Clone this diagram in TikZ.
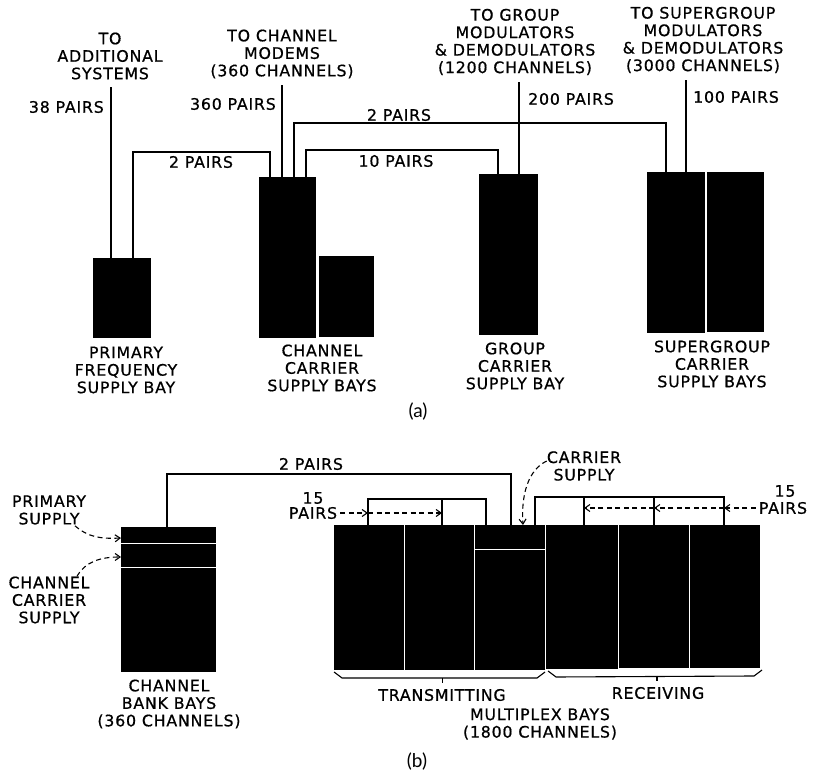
\documentclass[tikz,border=0pt]{standalone}
\usepackage{fontspec}
\setmainfont{DejaVu Sans}[LetterSpace=5,FakeBold=0.7]
\newfontfamily\capfont{Lato}
\usetikzlibrary{arrows.meta,calc}
\begin{document}
\begin{tikzpicture}[x=1pt,y=-1pt,
  bay/.style={fill=black,draw=none,inner sep=0pt,outer sep=0pt,anchor=north west},
  lbl/.style={inner sep=0pt,align=center,font=\fontsize{15.8}{17.5}\selectfont},
  wire/.style={line width=1.7pt},
  thinline/.style={white,line width=0.9pt},
  dasharrow/.style={line width=1.1pt,dash pattern=on 5pt off 3.5pt,-{Straight Barb[length=5pt,width=7pt]}},
  brace/.style={line width=1.1pt},
  capstyle/.style={inner sep=0pt,font=\capfont\fontsize{19}{21}\selectfont}
]
\useasboundingbox (0,0) rectangle (815,775);

% ---------- (a) bays
\node[bay,minimum width=58pt,minimum height=80pt] (prim) at (93,258) {};
\node[bay,minimum width=57pt,minimum height=161pt] (ch1) at (259,177) {};
\node[bay,minimum width=55pt,minimum height=81pt] (ch2) at (319,256) {};
\node[bay,minimum width=59pt,minimum height=161pt] (grp) at (479,174) {};
\node[bay,minimum width=58pt,minimum height=161pt] (sg1) at (647,172) {};
\node[bay,minimum width=57pt,minimum height=160pt] (sg2) at (707,172) {};

% top labels
\node[lbl] (tAdd) at (110,56) {TO\\ADDITIONAL\\SYSTEMS};
\node[lbl] (tChm) at (282,54) {TO CHANNEL\\MODEMS\\(360 CHANNELS)};
\node[lbl] (tGrp) at (515,42) {TO GROUP\\MODULATORS\\\& DEMODULATORS\\(1200 CHANNELS)};
\node[lbl] (tSg) at (703,40) {TO SUPERGROUP\\MODULATORS\\\& DEMODULATORS\\(3000 CHANNELS)};

\coordinate (eAdd) at (111,87);
\coordinate (eChm) at (282,85);
\coordinate (eGrp) at (519,82);
\coordinate (eSg) at (686,80);

% wires
\draw[wire] ([xshift=18pt]prim.north west) -- (eAdd);
\draw[wire] ([xshift=40pt]prim.north west) -- ++(0,-106) -| ([xshift=11pt]ch1.north west);
\draw[wire] ([xshift=23pt]ch1.north west) -- (eChm);
\draw[wire] ([xshift=35pt]ch1.north west) -- ++(0,-54) -| ([xshift=19pt]sg1.north west);
\draw[wire] ([xshift=47pt]ch1.north west) -- ++(0,-27) -| ([xshift=19pt]grp.north west);
\draw[wire] ([xshift=40pt]grp.north west) -- (eGrp);
\draw[wire] ([xshift=39pt]sg1.north west) -- (eSg);

% pair labels
\node[lbl,anchor=east] (l38) at (104,107) {38 PAIRS};
\node[lbl,anchor=east] (l360) at (276,104) {360 PAIRS};
\node[lbl] (l2a) at (201,162) {2 PAIRS};
\node[lbl] (l2b) at (399,115) {2 PAIRS};
\node[lbl] (l10) at (396,161) {10 PAIRS};
\node[lbl,anchor=west] (l200) at (528,99) {200 PAIRS};
\node[lbl,anchor=west] (l100) at (693,97) {100 PAIRS};

% bottom labels
\node[lbl] (bPrim) at (126,370) {PRIMARY\\FREQUENCY\\SUPPLY BAY};
\node[lbl] (bCh) at (322,368) {CHANNEL\\CARRIER\\SUPPLY BAYS};
\node[lbl] (bGrp) at (515,366) {GROUP\\CARRIER\\SUPPLY BAY};
\node[lbl] (bSg) at (712,364) {SUPERGROUP\\CARRIER\\SUPPLY BAYS};
\node[capstyle] (capA) at (418,412) {(a)};

% ---------- (b)
\node[bay,minimum width=95pt,minimum height=145pt] (bank) at (121,527) {};
\draw[thinline] ([yshift=-16pt]bank.north west) -- ([yshift=-16pt]bank.north east);
\draw[thinline] ([yshift=-40pt]bank.north west) -- ([yshift=-40pt]bank.north east);

\node[bay,minimum width=70pt,minimum height=145pt] (m1) at (334,525) {};
\node[bay,minimum width=69pt,minimum height=145pt] (m2) at (405,525) {};
\node[bay,minimum width=70pt,minimum height=145pt] (m3) at (475,525) {};
\node[bay,minimum width=72pt,minimum height=144pt] (m4) at (546,525) {};
\node[bay,minimum width=70pt,minimum height=143pt] (m5) at (619,525) {};
\node[bay,minimum width=70pt,minimum height=143pt] (m6) at (690,525) {};
\draw[thinline] ([yshift=-24pt]m3.north west) -- ([yshift=-24pt]m3.north east);

% 2 pairs (b)
\draw[wire] ([xshift=46pt]bank.north west) -- ++(0,-53) -| ([xshift=36pt]m3.north west);
\node[lbl] (l2c) at (311,464) {2 PAIRS};

% left bracket
\coordinate (lb1) at ([xshift=34pt]m1.north west);
\coordinate (lb2) at ([xshift=37pt]m2.north west);
\draw[wire] (lb1) -- ++(0,-26) -| ([xshift=11pt]m3.north west);
\draw[wire] (lb2) -- ++(0,-26);
\node[lbl] (l15a) at (313,498) {15};
\node[lbl] (lpA) at (313,513) {PAIRS};
\draw[dasharrow,shorten <=3pt] (lpA.east) -- (lpA.east -| lb1);
\draw[dasharrow] (lpA.east -| lb1) -- (lpA.east -| lb2);

% right bracket
\coordinate (rb1) at ([xshift=38pt]m4.north west);
\coordinate (rb2) at ([xshift=35pt]m5.north west);
\coordinate (rb3) at ([xshift=34pt]m6.north west);
\draw[wire] ([xshift=60pt]m3.north west) -- ++(0,-28) -| (rb3);
\draw[wire] (rb1) -- ++(0,-28);
\draw[wire] (rb2) -- ++(0,-28);
\node[lbl] (r15) at (785,491) {15};
\node[lbl] (rpB) at (783,508) {PAIRS};
\draw[dasharrow,shorten <=3pt] (rpB.west) -- (rpB.west -| rb3);
\draw[dasharrow] (rpB.west -| rb3) -- (rpB.west -| rb2);
\draw[dasharrow] (rpB.west -| rb2) -- (rpB.west -| rb1);

% carrier supply
\node[lbl] (cs) at (584,466) {CARRIER\\SUPPLY};
\draw[dasharrow] ([yshift=5pt]cs.west) .. controls (528,470) and (521,495) .. ([xshift=48pt]m3.north west);

% bank labels
\node[lbl] (ps) at (49,510) {PRIMARY\\SUPPLY};
\node[lbl] (ccs) at (49,600) {CHANNEL\\CARRIER\\SUPPLY};
\draw[dasharrow] ([xshift=26pt,yshift=-1pt]ps.south) .. controls (88,537) and (100,539) .. ([yshift=-11pt]bank.north west);
\draw[dasharrow] ([xshift=28pt]ccs.north) .. controls (85,562) and (100,557) .. ([yshift=-30pt]bank.north west);
\node[lbl] (bBank) at (169,704) {CHANNEL\\BANK BAYS\\(360 CHANNELS)};

% braces
\draw[brace] ($(m1.south west)+(0,2)$) -- ($(m1.south west)+(8,8)$) -- ($(m3.south east)+(-8,8)$) -- ($(m3.south east)+(0,2)$);
\draw[brace] ($(m2.south)+(3,8)$) -- ++(0,5);
\draw[brace] ($(m4.south west)+(2,2)$) -- ($(m4.south west)+(10,8)$) -- ($(m6.south east)+(-6,8)$) -- ($(m6.south east)+(2,2)$);
\draw[brace] ($(m5.south)+(3,8)$) -- ++(0,5);

\node[lbl] (tx) at (442,695) {TRANSMITTING};
\node[lbl] (rx) at (658,693) {RECEIVING};
\node[lbl] (mux) at (540,724) {MULTIPLEX BAYS\\(1800 CHANNELS)};
\node[capstyle] (capB) at (417,762) {(b)};
\end{tikzpicture}
\end{document}
